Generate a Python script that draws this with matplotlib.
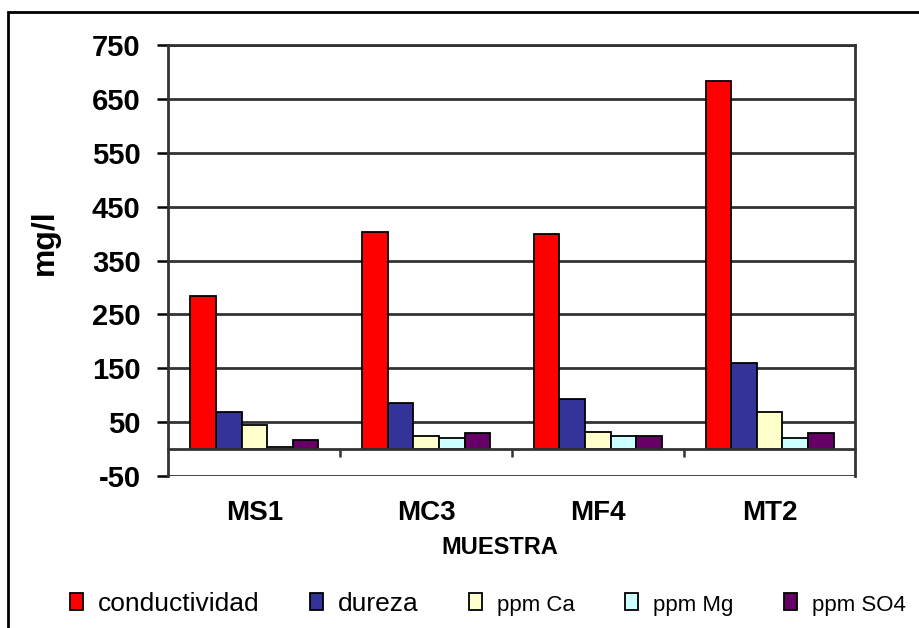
import numpy as np
import matplotlib
matplotlib.use("Agg")
import matplotlib.pyplot as plt
from matplotlib.patches import Rectangle
from matplotlib.ticker import FixedLocator

# data
muestras = ["MS1", "MC3", "MF4", "MT2"]
series = ["conductividad", "dureza", "ppm Ca", "ppm Mg", "ppm SO4"]
conductividad = [285, 402, 399, 683]
dureza = [68, 85, 93, 160]
ppm_ca = [44, 25, 31, 69]
ppm_mg = [3, 20, 24, 20]
ppm_so4 = [16, 30, 25, 29]
yticks = [-50, 50, 150, 250, 350, 450, 550, 650, 750]

colors = ["#FF0000", "#333399", "#FFFFCC", "#CCFFFF", "#660066"]
values = [conductividad, dureza, ppm_ca, ppm_mg, ppm_so4]

plt.rcParams["font.family"] = ["Liberation Sans", "DejaVu Sans"]
plt.rcParams["axes.unicode_minus"] = False

fig = plt.figure(figsize=(9.2, 6.28), dpi=100)
ax = fig.add_axes([168.5 / 920, 1 - 476 / 628, (855.5 - 168.5) / 920, (476 - 45) / 628])

x = np.arange(len(muestras))
w = 0.149
for i, (name, vals, c) in enumerate(zip(series, values, colors)):
    ax.bar(x + (i - 2) * w, vals, width=w, color=c, edgecolor="black",
           linewidth=1.3, label=name, zorder=3)

ax.set_xlim(-0.5, 3.5)
ax.set_ylim(-50, 750)
ax.set_yticks(yticks)
ax.yaxis.grid(True, color="#333333", linewidth=2, zorder=1)
ax.tick_params(axis="y", length=8, width=1.8, pad=12, labelsize=21)
for t in ax.get_yticklabels():
    t.set_fontweight("bold")

# x axis drawn at zero, boundary ticks pointing down
ax.spines["bottom"].set_position(("data", 0))
for s in ["left", "right", "top", "bottom"]:
    ax.spines[s].set_linewidth(2)
    ax.spines[s].set_color("#333333")
ax.spines["bottom"].set_zorder(4)
ax.set_xticks(x)
ax.set_xticklabels(muestras, fontsize=20, fontweight="bold")
ax.tick_params(axis="x", which="major", length=0, pad=37)
ax.xaxis.set_minor_locator(FixedLocator([0.5, 1.5, 2.5]))
ax.tick_params(axis="x", which="minor", length=6, width=1.8, color="#333333")

fig.text(45 / 920, 1 - 242 / 628, "mg/l", rotation=90, fontsize=23,
         fontweight="bold", ha="center", va="center")
fig.text(500 / 920, 1 - 548 / 628, "MUESTRA", fontsize=17,
         fontweight="bold", ha="center", va="center")

leg = fig.legend(loc="center", bbox_to_anchor=(488 / 920, 1 - 604 / 628), ncol=5,
                 frameon=False, fontsize=19, handlelength=0.5, handleheight=0.6,
                 handletextpad=0.57, columnspacing=1.9, borderpad=0)
for t in leg.get_texts()[2:]:
    t.set_fontsize(16)

# outer chart frame (left and top edges visible)
fig.patches.append(Rectangle((8 / 920, -0.2), 1.2, 1 - 12 / 628 + 0.2, fill=False,
                             linewidth=2, edgecolor="black", transform=fig.transFigure))

fig.savefig("out.png", dpi=100)
